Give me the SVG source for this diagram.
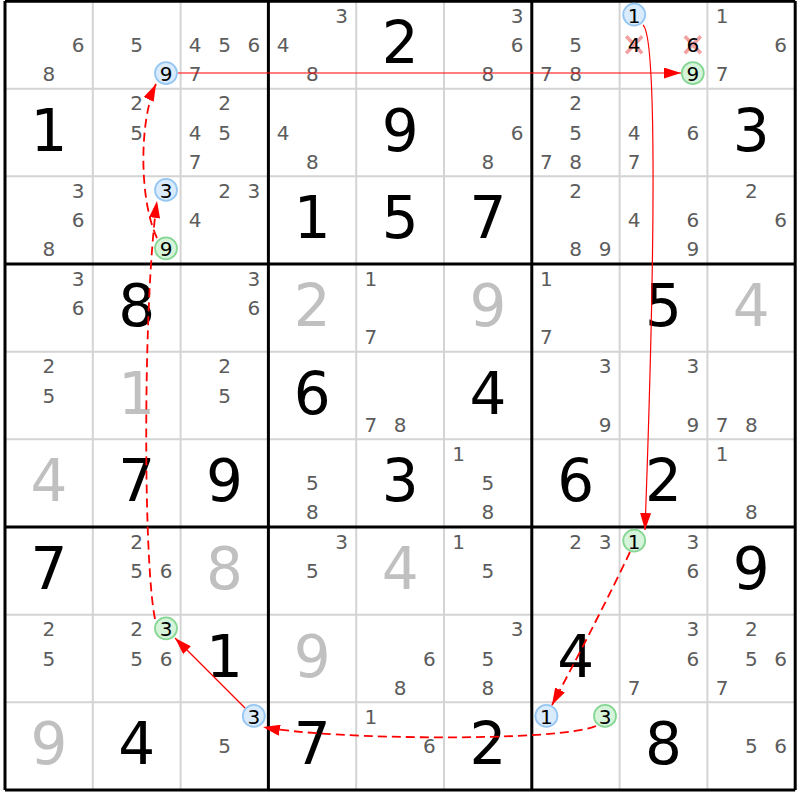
<svg xmlns="http://www.w3.org/2000/svg" width="800" height="800" viewBox="0 0 800 800">
<style>
text{font-family:"DejaVu Sans","Liberation Sans",sans-serif;text-anchor:middle}
.g{font-size:58px;fill:#000}
.gg{font-size:58px;fill:#c0c0c0}
.c{font-size:20px;fill:#5c5c5c}
.k{font-size:20px;fill:#000}
.thin{stroke:#d4d4d4;stroke-width:2}
.thick{stroke:#000;stroke-width:3}
.off{fill:#d9ebfc;stroke:#96c6f2;stroke-width:1.8}
.on{fill:#d6f4da;stroke:#86d694;stroke-width:1.8}
.x{stroke:#f2a0a0;stroke-width:3.5}
.sl{fill:none;stroke:#ff0000;stroke-width:1.2;marker-end:url(#ah)}
.dl{fill:none;stroke:#ff0000;stroke-width:1.8;stroke-dasharray:9 5;marker-end:url(#ah)}
</style>
<defs>
<marker id="ah" viewBox="0 0 17 11" markerWidth="17" markerHeight="11" refX="17" refY="5.5" orient="auto" markerUnits="userSpaceOnUse"><path d="M0,0 L17,5.5 L0,11 z" fill="#ff0000"/></marker>
</defs>
<rect x="0" y="0" width="800" height="800" fill="#fff"/>
<g id="grid">
<path class="thin" d="M92.8 1V790M180.6 1V790M356.2 1V790M444 1V790M619.6 1V790M707.4 1V790M5 88.67H795.2M5 176.33H795.2M5 351.67H795.2M5 439.33H795.2M5 614.67H795.2M5 702.33H795.2"/>
<path class="thick" d="M5 1V790M268.4 1V790M531.8 1V790M795.2 1V790M5 1.3H795.2M5 264H795.2M5 527H795.2M5 790H795.2"/>
</g>
<g id="r1c1"><text class="c" x="78.2" y="51.8">6</text><text class="c" x="48.9" y="81.1">8</text></g>
<g id="r1c2"><text class="c" x="136.7" y="51.8">5</text><circle class="off" cx="166" cy="73.1" r="11"/><text class="k" x="166" y="81.1">9</text></g>
<g id="r1c3"><text class="c" x="195.2" y="51.8">4</text><text class="c" x="224.5" y="51.8">5</text><text class="c" x="253.8" y="51.8">6</text><text class="c" x="195.2" y="81.1">7</text></g>
<g id="r1c4"><text class="c" x="341.6" y="22.6">3</text><text class="c" x="283" y="51.8">4</text><text class="c" x="312.3" y="81.1">8</text></g>
<g id="r1c5"><text class="g" x="400.1" y="62.8">2</text></g>
<g id="r1c6"><text class="c" x="517.2" y="22.6">3</text><text class="c" x="517.2" y="51.8">6</text><text class="c" x="487.9" y="81.1">8</text></g>
<g id="r1c7"><text class="c" x="575.7" y="51.8">5</text><text class="c" x="546.4" y="81.1">7</text><text class="c" x="575.7" y="81.1">8</text></g>
<g id="r1c8"><circle class="off" cx="634.2" cy="14.6" r="11"/><text class="k" x="634.2" y="22.6">1</text>
<path class="x" d="M626.2 36.3L642.2 53.3M642.2 36.3L626.2 53.3"/><text class="k" x="634.2" y="51.8">4</text>
<path class="x" d="M684.8 36.3L700.8 53.3M700.8 36.3L684.8 53.3"/><text class="k" x="692.8" y="51.8">6</text>
<circle class="on" cx="692.8" cy="73.1" r="11"/><text class="k" x="692.8" y="81.1">9</text></g>
<g id="r1c9"><text class="c" x="722" y="22.6">1</text><text class="c" x="780.6" y="51.8">6</text><text class="c" x="722" y="81.1">7</text></g>
<g id="r2c1"><text class="g" x="48.9" y="150.5">1</text></g>
<g id="r2c2"><text class="c" x="136.7" y="110.3">2</text><text class="c" x="136.7" y="139.5">5</text></g>
<g id="r2c3"><text class="c" x="224.5" y="110.3">2</text><text class="c" x="195.2" y="139.5">4</text><text class="c" x="224.5" y="139.5">5</text><text class="c" x="195.2" y="168.8">7</text></g>
<g id="r2c4"><text class="c" x="283" y="139.5">4</text><text class="c" x="312.3" y="168.8">8</text></g>
<g id="r2c5"><text class="g" x="400.1" y="150.5">9</text></g>
<g id="r2c6"><text class="c" x="517.2" y="139.5">6</text><text class="c" x="487.9" y="168.8">8</text></g>
<g id="r2c7"><text class="c" x="575.7" y="110.3">2</text><text class="c" x="575.7" y="139.5">5</text><text class="c" x="546.4" y="168.8">7</text><text class="c" x="575.7" y="168.8">8</text></g>
<g id="r2c8"><text class="c" x="634.2" y="139.5">4</text><text class="c" x="692.8" y="139.5">6</text><text class="c" x="634.2" y="168.8">7</text></g>
<g id="r2c9"><text class="g" x="751.3" y="150.5">3</text></g>
<g id="r3c1"><text class="c" x="78.2" y="197.9">3</text><text class="c" x="78.2" y="227.1">6</text><text class="c" x="48.9" y="256.4">8</text></g>
<g id="r3c2"><circle class="off" cx="166" cy="189.9" r="11"/><text class="k" x="166" y="197.9">3</text><circle class="on" cx="166" cy="248.4" r="11"/><text class="k" x="166" y="256.4">9</text></g>
<g id="r3c3"><text class="c" x="224.5" y="197.9">2</text><text class="c" x="253.8" y="197.9">3</text><text class="c" x="195.2" y="227.1">4</text></g>
<g id="r3c4"><text class="g" x="312.3" y="238.1">1</text></g>
<g id="r3c5"><text class="g" x="400.1" y="238.1">5</text></g>
<g id="r3c6"><text class="g" x="487.9" y="238.1">7</text></g>
<g id="r3c7"><text class="c" x="575.7" y="197.9">2</text><text class="c" x="575.7" y="256.4">8</text><text class="c" x="605" y="256.4">9</text></g>
<g id="r3c8"><text class="c" x="634.2" y="227.1">4</text><text class="c" x="692.8" y="227.1">6</text><text class="c" x="692.8" y="256.4">9</text></g>
<g id="r3c9"><text class="c" x="751.3" y="197.9">2</text><text class="c" x="780.6" y="227.1">6</text></g>
<g id="r4c1"><text class="c" x="78.2" y="285.6">3</text><text class="c" x="78.2" y="314.8">6</text></g>
<g id="r4c2"><text class="g" x="136.7" y="325.8">8</text></g>
<g id="r4c3"><text class="c" x="253.8" y="285.6">3</text><text class="c" x="253.8" y="314.8">6</text></g>
<g id="r4c4"><text class="gg" x="312.3" y="325.8">2</text></g>
<g id="r4c5"><text class="c" x="370.8" y="285.6">1</text><text class="c" x="370.8" y="344.1">7</text></g>
<g id="r4c6"><text class="gg" x="487.9" y="325.8">9</text></g>
<g id="r4c7"><text class="c" x="546.4" y="285.6">1</text><text class="c" x="546.4" y="344.1">7</text></g>
<g id="r4c8"><text class="g" x="663.5" y="325.8">5</text></g>
<g id="r4c9"><text class="gg" x="751.3" y="325.8">4</text></g>
<g id="r5c1"><text class="c" x="48.9" y="373.3">2</text><text class="c" x="48.9" y="402.5">5</text></g>
<g id="r5c2"><text class="gg" x="136.7" y="413.5">1</text></g>
<g id="r5c3"><text class="c" x="224.5" y="373.3">2</text><text class="c" x="224.5" y="402.5">5</text></g>
<g id="r5c4"><text class="g" x="312.3" y="413.5">6</text></g>
<g id="r5c5"><text class="c" x="370.8" y="431.8">7</text><text class="c" x="400.1" y="431.8">8</text></g>
<g id="r5c6"><text class="g" x="487.9" y="413.5">4</text></g>
<g id="r5c7"><text class="c" x="605" y="373.3">3</text><text class="c" x="605" y="431.8">9</text></g>
<g id="r5c8"><text class="c" x="692.8" y="373.3">3</text><text class="c" x="692.8" y="431.8">9</text></g>
<g id="r5c9"><text class="c" x="722" y="431.8">7</text><text class="c" x="751.3" y="431.8">8</text></g>
<g id="r6c1"><text class="gg" x="48.9" y="501.1">4</text></g>
<g id="r6c2"><text class="g" x="136.7" y="501.1">7</text></g>
<g id="r6c3"><text class="g" x="224.5" y="501.1">9</text></g>
<g id="r6c4"><text class="c" x="312.3" y="490.1">5</text><text class="c" x="312.3" y="519.4">8</text></g>
<g id="r6c5"><text class="g" x="400.1" y="501.1">3</text></g>
<g id="r6c6"><text class="c" x="458.6" y="460.9">1</text><text class="c" x="487.9" y="490.1">5</text><text class="c" x="487.9" y="519.4">8</text></g>
<g id="r6c7"><text class="g" x="575.7" y="501.1">6</text></g>
<g id="r6c8"><text class="g" x="663.5" y="501.1">2</text></g>
<g id="r6c9"><text class="c" x="722" y="460.9">1</text><text class="c" x="751.3" y="519.4">8</text></g>
<g id="r7c1"><text class="g" x="48.9" y="588.8">7</text></g>
<g id="r7c2"><text class="c" x="136.7" y="548.6">2</text><text class="c" x="136.7" y="577.8">5</text><text class="c" x="166" y="577.8">6</text></g>
<g id="r7c3"><text class="gg" x="224.5" y="588.8">8</text></g>
<g id="r7c4"><text class="c" x="341.6" y="548.6">3</text><text class="c" x="312.3" y="577.8">5</text></g>
<g id="r7c5"><text class="gg" x="400.1" y="588.8">4</text></g>
<g id="r7c6"><text class="c" x="458.6" y="548.6">1</text><text class="c" x="487.9" y="577.8">5</text></g>
<g id="r7c7"><text class="c" x="575.7" y="548.6">2</text><text class="c" x="605" y="548.6">3</text></g>
<g id="r7c8"><circle class="on" cx="634.2" cy="540.6" r="11"/><text class="k" x="634.2" y="548.6">1</text><text class="c" x="692.8" y="548.6">3</text><text class="c" x="692.8" y="577.8">6</text></g>
<g id="r7c9"><text class="g" x="751.3" y="588.8">9</text></g>
<g id="r8c1"><text class="c" x="48.9" y="636.3">2</text><text class="c" x="48.9" y="665.5">5</text></g>
<g id="r8c2"><text class="c" x="136.7" y="636.3">2</text><circle class="on" cx="166" cy="628.3" r="11"/><text class="k" x="166" y="636.3">3</text><text class="c" x="136.7" y="665.5">5</text><text class="c" x="166" y="665.5">6</text></g>
<g id="r8c3"><text class="g" x="224.5" y="676.5">1</text></g>
<g id="r8c4"><text class="gg" x="312.3" y="676.5">9</text></g>
<g id="r8c5"><text class="c" x="429.4" y="665.5">6</text><text class="c" x="400.1" y="694.8">8</text></g>
<g id="r8c6"><text class="c" x="517.2" y="636.3">3</text><text class="c" x="487.9" y="665.5">5</text><text class="c" x="487.9" y="694.8">8</text></g>
<g id="r8c7"><text class="g" x="575.7" y="676.5">4</text></g>
<g id="r8c8"><text class="c" x="692.8" y="636.3">3</text><text class="c" x="692.8" y="665.5">6</text><text class="c" x="634.2" y="694.8">7</text></g>
<g id="r8c9"><text class="c" x="751.3" y="636.3">2</text><text class="c" x="751.3" y="665.5">5</text><text class="c" x="780.6" y="665.5">6</text><text class="c" x="722" y="694.8">7</text></g>
<g id="r9c1"><text class="gg" x="48.9" y="764.1">9</text></g>
<g id="r9c2"><text class="g" x="136.7" y="764.1">4</text></g>
<g id="r9c3"><circle class="off" cx="253.8" cy="715.9" r="11"/><text class="k" x="253.8" y="723.9">3</text><text class="c" x="224.5" y="753.1">5</text></g>
<g id="r9c4"><text class="g" x="312.3" y="764.1">7</text></g>
<g id="r9c5"><text class="c" x="370.8" y="723.9">1</text><text class="c" x="429.4" y="753.1">6</text></g>
<g id="r9c6"><text class="g" x="487.9" y="764.1">2</text></g>
<g id="r9c7"><circle class="off" cx="546.4" cy="715.9" r="11"/><text class="k" x="546.4" y="723.9">1</text><circle class="on" cx="605" cy="715.9" r="11"/><text class="k" x="605" y="723.9">3</text></g>
<g id="r9c8"><text class="g" x="663.5" y="764.1">8</text></g>
<g id="r9c9"><text class="c" x="751.3" y="753.1">5</text><text class="c" x="780.6" y="753.1">6</text></g>
<g id="connectors">
<path class="sl" d="M178 73H681"/>
<path class="sl" d="M643 25C655 35 657 200 645 530"/>
<path class="dl" d="M630 552Q600 615 552 705"/>
<path class="dl" d="M596 726C560 742 330 740 263 727"/>
<path class="sl" d="M245 708L175 638"/>
<path class="dl" d="M155 619C143 560 143 300 157 201"/>
<path class="dl" d="M157 238C139 200 139 120 156 84"/>
</g>
</svg>
